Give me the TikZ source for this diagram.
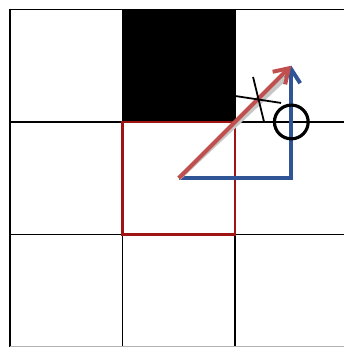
\documentclass[tikz,border=0pt]{standalone}
\usetikzlibrary{arrows.meta}
\definecolor{vred}{RGB}{192,80,77}
\definecolor{vblue}{RGB}{47,85,151}
\definecolor{cellred}{RGB}{160,20,20}

\begin{document}
\begin{tikzpicture}[x=1cm,y=1cm]
    \useasboundingbox (-0.089,0) rectangle (2.96,3.084);
    \tikzset{vec/.style={line width=1pt, -{Straight Barb[length=3.5pt,width=4.5pt]}}}

    % Grid of cells
    \draw[line width=0.4pt] (0,0) grid (3,3);
    \draw[gray!60, line width=0.4pt] (0,0) -- (3,0);
    \fill[black] (1,2) rectangle (2,3);
    \draw[cellred, line width=0.6pt] (1,1) rectangle (2,2);

    % Vectors from the cell centre
    \coordinate (o) at (1.5,1.5);
    \coordinate (c) at (2.5,1.5);
    \coordinate (t) at (2.5,2.5);
    \draw[vec, vblue] (o) -- (c) -- (t);
    \draw[gray!45, line width=1.2pt, shift={(0.025,-0.03)}] (o) -- (2.42,2.42);
    \draw[vec, vred] (o) -- (t);

    % Blocked crossing and free step
    \draw[line width=0.45pt] (2.0,2.231) -- (2.409,2.169);
    \draw[line width=0.45pt] (2.16,2.4) -- (2.258,2.0);
    \node[circle, draw, line width=0.8pt, minimum size=0.3cm, inner sep=0pt] (s) at (2.5,2) {};
\end{tikzpicture}
\end{document}
